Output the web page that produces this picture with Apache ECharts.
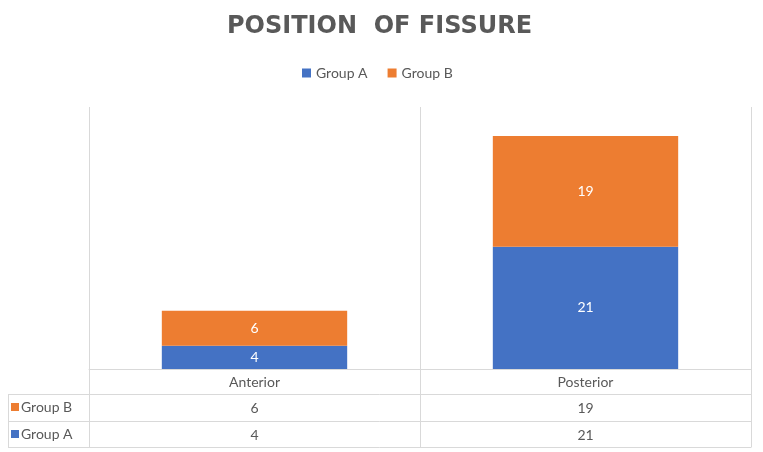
<!DOCTYPE html>
<html><head><meta charset="utf-8">
<script src="https://cdn.jsdelivr.net/npm/echarts@6/dist/echarts.min.js"></script>
<style>html,body{margin:0;padding:0;background:#fff}#c{width:763px;height:452px}</style>
</head><body><div id="c"></div>
<script>
const categories = ['Anterior', 'Posterior'];
const groupA = [4, 21];
const groupB = [6, 19];
const seriesNames = ['Group A', 'Group B'];
const colors = ['#4472C4', '#ED7D31'];

const chart = echarts.init(document.getElementById('c'));
const FONT = 'Lato';
const gray = '#595959';
const lineC = '#d9d9d9';
const L = 89, R = 751, T = 107, B = 369;
const rowLines = [394, 421, 447];

function line(x1, y1, x2, y2) {
  return { type: 'line', shape: { x1, y1, x2, y2 }, style: { stroke: lineC, lineWidth: 1 }, silent: true };
}
const graphics = [];
rowLines.forEach(y => graphics.push(line(8, y + 0.5, R + 0.5, y + 0.5)));
graphics.push(line(8.5, rowLines[0], 8.5, rowLines[2]));
[L, (L + R) / 2, R].forEach(x => graphics.push(line(Math.round(x) + 0.5, T, Math.round(x) + 0.5, rowLines[2])));
// row header legend keys
const rowDefs = [{ name: seriesNames[1], color: colors[1], y: 407 }, { name: seriesNames[0], color: colors[0], y: 434 }];
rowDefs.forEach(r => {
  graphics.push({ type: 'rect', shape: { x: 11, y: r.y - 4, width: 8, height: 8 }, style: { fill: r.color } });
  graphics.push({ type: 'text', x: 21, y: r.y, style: { text: r.name, fill: gray, font: '14px ' + FONT, textVerticalAlign: 'middle' } });
});

const hidden = { show: false };
chart.setOption({
  backgroundColor: '#fff',
  textStyle: { fontFamily: FONT },
  title: {
    text: 'POSITION  OF FISSURE', left: 222, top: 10,
    textStyle: { fontFamily: 'DejaVu Sans', fontWeight: 'bold', fontSize: 24, color: gray }
  },
  legend: {
    data: seriesNames, top: 61, left: 297, itemWidth: 9, itemHeight: 9, itemGap: 20,
    icon: 'rect', textStyle: { fontFamily: FONT, fontSize: 14, color: gray }
  },
  grid: { left: L, right: 763 - R, top: T, bottom: 452 - B },
  xAxis: [
    {
      type: 'category', data: categories,
      axisLine: { lineStyle: { color: lineC } }, axisTick: hidden,
      axisLabel: { color: gray, fontSize: 14, fontFamily: FONT, margin: 6 },
      splitLine: { show: false }
    },
    {
      type: 'category', data: groupB.map(String), position: 'bottom', offset: 27,
      axisLine: hidden, axisTick: hidden, splitLine: hidden,
      axisLabel: { color: gray, fontSize: 14, fontFamily: FONT, margin: 5 }
    },
    {
      type: 'category', data: groupA.map(String), position: 'bottom', offset: 54,
      axisLine: hidden, axisTick: hidden, splitLine: hidden,
      axisLabel: { color: gray, fontSize: 14, fontFamily: FONT, margin: 5 }
    }
  ],
  yAxis: { type: 'value', min: 0, max: 45, interval: 5, show: false, splitLine: hidden },
  series: [
    {
      name: seriesNames[0], type: 'bar', stack: 's', data: groupA, barWidth: '56%',
      itemStyle: { color: colors[0] },
      label: { show: true, position: 'inside', color: '#fff', fontSize: 14, fontFamily: FONT }
    },
    {
      name: seriesNames[1], type: 'bar', stack: 's', data: groupB, barWidth: '56%',
      itemStyle: { color: colors[1] },
      label: { show: true, position: 'inside', color: '#fff', fontSize: 14, fontFamily: FONT }
    }
  ],
  graphic: graphics
});
</script></body></html>
